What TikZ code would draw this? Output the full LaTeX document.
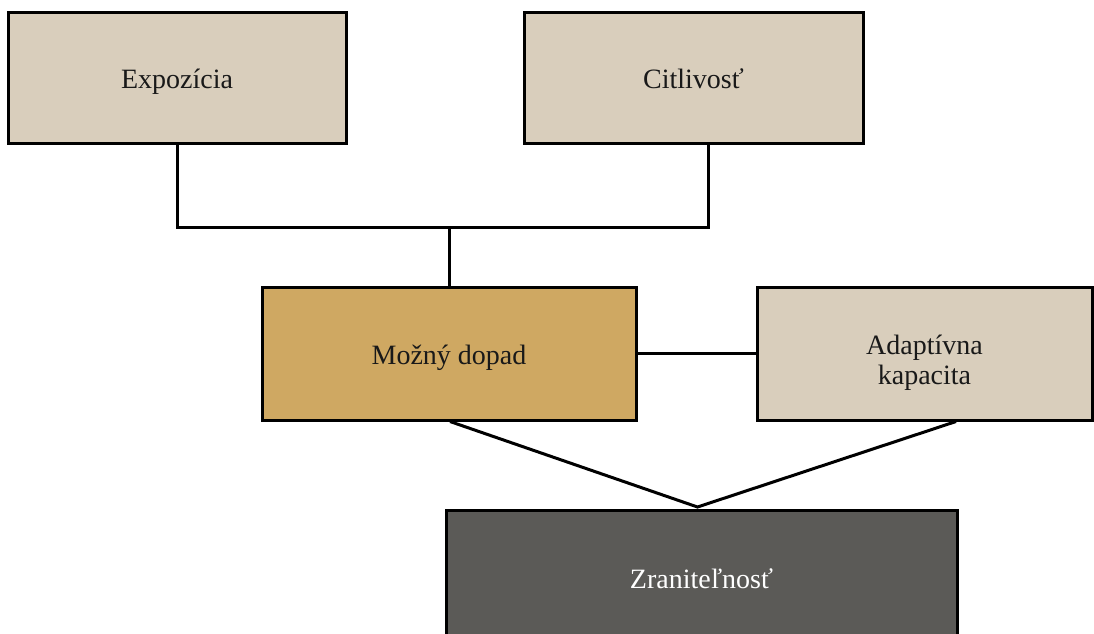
\documentclass[tikz,border=0pt]{standalone}
\usepackage{fontspec}
\setmainfont{Liberation Serif}
\usetikzlibrary{calc}
\definecolor{beigebox}{HTML}{D9CEBC}
\definecolor{goldbox}{HTML}{CFA862}
\definecolor{darkbox}{HTML}{5B5A57}
\begin{document}
\begin{tikzpicture}[x=1pt,y=-1pt,
  box/.style={draw=black, line width=3pt, rectangle, inner sep=0pt, align=center,
    font=\fontsize{28}{30}\selectfont, text=black!90, text height=25pt, text depth=4pt},
  link/.style={draw=black, line width=3pt}]
\useasboundingbox (0,0) rectangle (1094,633);
\node[box, fill=beigebox, minimum width=338pt, minimum height=131pt] (expo) at (177,77.5) {Expozícia};
\node[box, fill=beigebox, minimum width=339pt, minimum height=131pt] (cit) at (693.5,77.5) {Citlivosť};
\node[box, fill=goldbox, minimum width=374pt, minimum height=133pt] (mz) at (449,353.5) {Možný dopad};
\node[box, fill=beigebox, minimum width=335pt, minimum height=133pt, text height=95pt, text depth=34pt] (ad) at (924.5,353.5) {Adaptívna\\kapacita};
\node[box, fill=darkbox, text=white, minimum width=511pt, minimum height=136pt] (zr) at (701.5,578) {Zraniteľnosť};
\coordinate (meet) at (697.5,507);
\draw[link] (expo.south) -- ++(0,83) coordinate (j1) -| ($(cit.south)+(14.5,0)$);
\draw[link] (mz.north) -- (mz.north |- j1);
\draw[link] (mz.east) -- (ad.west);
\draw[link] ($(mz.south)+(1,0)$) -- (meet) -- ($(ad.south)+(31.5,0)$);
\end{tikzpicture}
\end{document}
